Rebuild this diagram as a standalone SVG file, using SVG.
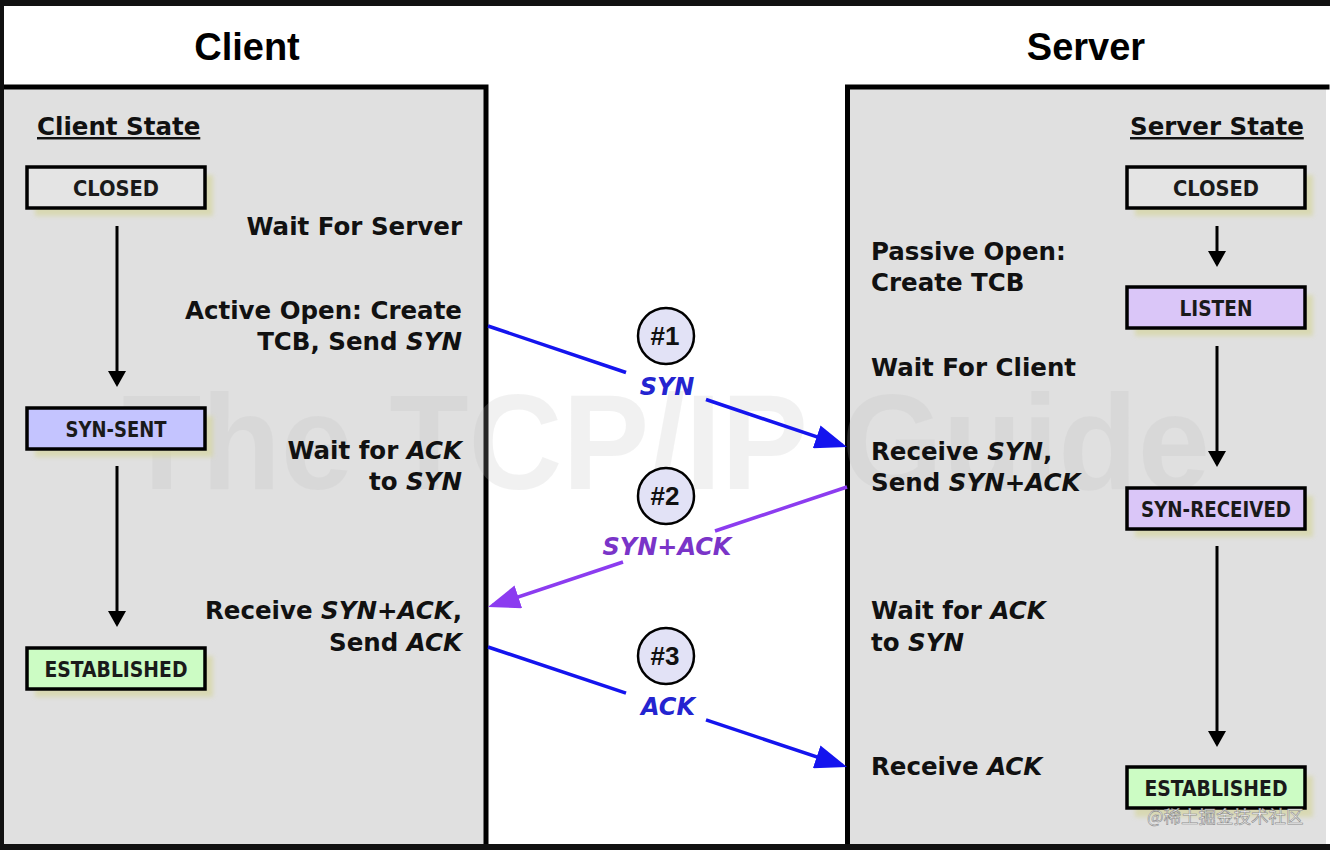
<svg xmlns="http://www.w3.org/2000/svg" width="1330" height="850" viewBox="0 0 1330 850">
<defs>
<style>
.panel{fill:#e0e0e0}
.edge{stroke:#000;stroke-width:5;fill:none;stroke-linecap:square}
.title{font-family:"Liberation Sans",Arial,sans-serif;font-weight:bold;font-size:38px;fill:#000;text-anchor:middle}
.lbl{font-family:"DejaVu Sans",Verdana,sans-serif;font-weight:bold;font-size:24.5px;fill:#111}
.end{text-anchor:end}
.it{font-style:italic}
.hdr{text-decoration:underline}
.box{stroke:#000;stroke-width:3.5}
.shadow{fill:#d6d6a0;opacity:.7;filter:url(#blur)}
.st{font-family:"DejaVu Sans Condensed","DejaVu Sans",sans-serif;font-weight:bold;font-size:22px;fill:#1a1a1a;text-anchor:middle}
.closed{fill:#e4e4e4}
.sent{fill:#c4c4ff}
.purp{fill:#dac6f8}
.estab{fill:#ccfcc4}
.flow{stroke:#000;stroke-width:3;marker-end:url(#ah)}
.blue{stroke:#1414ee;stroke-width:3.5;fill:none}
.violet{stroke:#8c3cf0;stroke-width:3.5;fill:none}
.circ{fill:#e2e2f6;stroke:#000;stroke-width:2.5}
.num{font-family:"Liberation Sans",Arial,sans-serif;font-weight:bold;font-size:26px;fill:#111;text-anchor:middle}
.mlbl{font-family:"DejaVu Sans",Verdana,sans-serif;font-weight:bold;font-style:italic;font-size:24px;text-anchor:middle}
.wm{font-family:"Liberation Sans",Arial,sans-serif;font-weight:bold;font-size:135px;fill:#bdbdbd;opacity:.2}
.cn{font-family:"Noto Sans CJK SC",sans-serif;font-size:17.5px;fill:#f6f6f6;stroke:#8a8a8a;stroke-width:.6}
</style>
<filter id="blur" x="-10%" y="-20%" width="120%" height="140%"><feGaussianBlur stdDeviation="2"/></filter>
<marker id="ah" markerUnits="userSpaceOnUse" markerWidth="18" markerHeight="18" viewBox="0 0 16 18" refX="13" refY="9" orient="auto">
<path d="M0,0 L16,9 L0,18 z" fill="#000"/>
</marker>
<marker id="ahb" markerUnits="userSpaceOnUse" markerWidth="32" markerHeight="24" viewBox="0 0 32 24" refX="27" refY="12" orient="auto">
<path d="M0,0 L32,12 L0,24 z" fill="#1414ee"/>
</marker>
<marker id="ahv" markerUnits="userSpaceOnUse" markerWidth="32" markerHeight="24" viewBox="0 0 32 24" refX="27" refY="12" orient="auto">
<path d="M0,0 L32,12 L0,24 z" fill="#8c3cf0"/>
</marker>
</defs>

<rect x="0" y="0" width="1330" height="850" fill="#fff"/>

<g id="client-panel">
<rect class="panel" x="4" y="87" width="482" height="758"/>
<path class="edge" d="M5,87 L486,87 L486,845"/>
</g>
<g id="server-panel">
<rect class="panel" x="847" y="87" width="479" height="758"/>
<path class="edge" d="M847.5,845 L847.5,87 L1327,87"/>
</g>

<text class="wm" x="122" y="489" textLength="1088" lengthAdjust="spacingAndGlyphs">The TCP/IP Guide</text>

<g id="frame">
<rect x="0" y="0" width="1330" height="6" fill="#111"/>
<rect x="0" y="0" width="4" height="850" fill="#111"/>
<rect x="0" y="844" width="1330" height="6" fill="#111"/>
</g>

<text class="title" x="247" y="60">Client</text>
<text class="title" x="1086" y="60">Server</text>

<g id="client-text">
<text class="lbl hdr" x="37" y="135">Client State</text>
<text class="lbl end" x="462" y="235">Wait For Server</text>
<text class="lbl end" x="462" y="319">Active Open: Create</text>
<text class="lbl end" x="462" y="350">TCB, Send <tspan class="it">SYN</tspan></text>
<text class="lbl end" x="462" y="459">Wait for <tspan class="it">ACK</tspan></text>
<text class="lbl end" x="462" y="490">to <tspan class="it">SYN</tspan></text>
<text class="lbl end" x="462" y="619">Receive <tspan class="it">SYN+ACK</tspan>,</text>
<text class="lbl end" x="462" y="651">Send <tspan class="it">ACK</tspan></text>
</g>

<g id="server-text">
<text class="lbl hdr" x="1130" y="135">Server State</text>
<text class="lbl" x="871" y="260">Passive Open:</text>
<text class="lbl" x="871" y="291">Create TCB</text>
<text class="lbl" x="871" y="376">Wait For Client</text>
<text class="lbl" x="871" y="460">Receive <tspan class="it">SYN</tspan>,</text>
<text class="lbl" x="871" y="491">Send <tspan class="it">SYN+ACK</tspan></text>
<text class="lbl" x="871" y="619">Wait for <tspan class="it">ACK</tspan></text>
<text class="lbl" x="871" y="651">to <tspan class="it">SYN</tspan></text>
<text class="lbl" x="871" y="775">Receive <tspan class="it">ACK</tspan></text>
</g>

<g id="c-closed">
<rect class="shadow" x="35" y="175" width="178" height="41"/>
<rect class="box closed" x="27" y="167" width="178" height="41"/>
<text class="st" x="116" y="196" textLength="86" lengthAdjust="spacingAndGlyphs">CLOSED</text>
</g>
<g id="c-synsent">
<rect class="shadow" x="35" y="416" width="178" height="41"/>
<rect class="box sent" x="27" y="408" width="178" height="41"/>
<text class="st" x="116" y="437" textLength="101" lengthAdjust="spacingAndGlyphs">SYN-SENT</text>
</g>
<g id="c-established">
<rect class="shadow" x="35" y="656" width="178" height="41"/>
<rect class="box estab" x="27" y="648" width="178" height="41"/>
<text class="st" x="116" y="677" textLength="143" lengthAdjust="spacingAndGlyphs">ESTABLISHED</text>
</g>

<g id="s-closed">
<rect class="shadow" x="1135" y="175" width="178" height="41"/>
<rect class="box closed" x="1127" y="167" width="178" height="41"/>
<text class="st" x="1216" y="196" textLength="86" lengthAdjust="spacingAndGlyphs">CLOSED</text>
</g>
<g id="s-listen">
<rect class="shadow" x="1135" y="295" width="178" height="41"/>
<rect class="box purp" x="1127" y="287" width="178" height="41"/>
<text class="st" x="1216" y="316" textLength="73" lengthAdjust="spacingAndGlyphs">LISTEN</text>
</g>
<g id="s-synreceived">
<rect class="shadow" x="1135" y="496" width="178" height="41"/>
<rect class="box purp" x="1127" y="488" width="178" height="41"/>
<text class="st" x="1216" y="517" textLength="150" lengthAdjust="spacingAndGlyphs">SYN-RECEIVED</text>
</g>
<g id="s-established">
<rect class="shadow" x="1135" y="776" width="178" height="41"/>
<rect class="box estab" x="1127" y="767" width="178" height="41"/>
<text class="st" x="1216" y="796" textLength="143" lengthAdjust="spacingAndGlyphs">ESTABLISHED</text>
</g>

<g id="step1">
<circle class="circ" cx="666" cy="336" r="28"/>
<text class="num" x="665" y="345">#1</text>
<text class="mlbl" x="667" y="395" fill="#2424d0">SYN</text>
</g>
<g id="step2">
<circle class="circ" cx="666" cy="496" r="28"/>
<text class="num" x="665" y="505">#2</text>
<text class="mlbl" x="667" y="555" fill="#7a34c8">SYN+ACK</text>
</g>
<g id="step3">
<circle class="circ" cx="666" cy="656" r="28"/>
<text class="num" x="665" y="665">#3</text>
<text class="mlbl" x="668" y="715" fill="#2424d0">ACK</text>
</g>

<g id="connectors">
<line class="flow" x1="117" y1="226" x2="117" y2="384"/>
<line class="flow" x1="117" y1="466" x2="117" y2="624"/>
<line class="flow" x1="1217" y1="226" x2="1217" y2="264"/>
<line class="flow" x1="1217" y1="346" x2="1217" y2="464"/>
<line class="flow" x1="1217" y1="546" x2="1217" y2="744"/>
<path class="blue" d="M488,326 L626,372.5"/>
<path class="blue" d="M706,399.5 L842.3,445.4" marker-end="url(#ahb)"/>
<path class="violet" d="M847,487 L715,531"/>
<path class="violet" d="M623,562 L492.7,605.4" marker-end="url(#ahv)"/>
<path class="blue" d="M488,647 L626,693.1"/>
<path class="blue" d="M706,719.9 L842.3,765.4" marker-end="url(#ahb)"/>
</g>

<text class="cn" x="1147" y="823">@稀土掘金技术社区</text>
</svg>
